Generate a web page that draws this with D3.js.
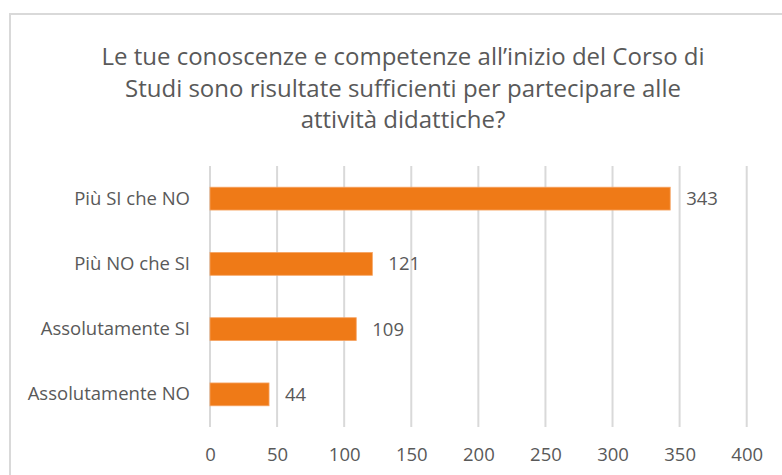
<!DOCTYPE html>
<html>
<head>
<meta charset="utf-8">
<style>
  body { margin: 0; background: #fff; }
  text { font-family: "Open Sans", sans-serif; fill: #595959; }
</style>
</head>
<body>
<svg width="782" height="475"></svg>
<script src="https://cdn.jsdelivr.net/npm/d3@7"></script>
<script>
// data
var categories = ["Più SI che NO", "Più NO che SI", "Assolutamente SI", "Assolutamente NO"];
var values = [343, 121, 109, 44];
var ticks = [0, 50, 100, 150, 200, 250, 300, 350, 400];
var titleLines = [
  "Le tue conoscenze e competenze all\u2019inizio del Corso di",
  "Studi sono risultate sufficienti per partecipare alle",
  "attività didattiche?"
];

var svg = d3.select("svg");

// chart border (runs off the right and bottom of the picture)
svg.append("rect")
  .attr("x", 10).attr("y", 14)
  .attr("width", 800).attr("height", 500)
  .attr("fill", "#fff")
  .attr("stroke", "#d9d9d9")
  .attr("stroke-width", 2);

var x = d3.scaleLinear().domain([0, 400]).range([210, 746.7]);
var y = d3.scaleBand().domain(categories).range([166, 427])
  .paddingInner(0.65).paddingOuter(0.325);

// title
svg.append("text")
  .attr("text-anchor", "middle")
  .style("font-size", "24px")
  .selectAll("tspan")
  .data(titleLines)
  .enter().append("tspan")
  .attr("x", 403)
  .attr("y", function(d, i) { return 65 + i * 31.5; })
  .text(function(d) { return d; });

// gridlines
svg.append("g")
  .selectAll("line")
  .data(ticks)
  .enter().append("line")
  .attr("x1", function(d) { return x(d); })
  .attr("x2", function(d) { return x(d); })
  .attr("y1", 166).attr("y2", 427)
  .attr("stroke", "#d9d9d9")
  .attr("stroke-width", 2);

// x axis labels
var xAxis = svg.append("g")
  .attr("transform", "translate(0,448)")
  .call(d3.axisBottom(x).tickValues(ticks).tickSize(0).tickPadding(0));
xAxis.select(".domain").remove();
xAxis.selectAll("text")
  .attr("dy", "0.71em")
  .style("font-size", "18.5px")
  .attr("fill", "#595959");

// category labels
var yAxis = svg.append("g")
  .attr("transform", "translate(190,0)")
  .call(d3.axisLeft(y).tickSize(0).tickPadding(0));
yAxis.select(".domain").remove();
yAxis.selectAll("text")
  .style("font-size", "18.5px")
  .attr("fill", "#595959");

// bars
var data = categories.map(function(c, i) { return {cat: c, value: values[i]}; });

svg.append("g")
  .selectAll("rect")
  .data(data)
  .enter().append("rect")
  .attr("x", x(0))
  .attr("y", function(d) { return y(d.cat); })
  .attr("width", function(d) { return x(d.value) - x(0); })
  .attr("height", y.bandwidth())
  .attr("fill", "#ef7a17")
  .attr("stroke", "#f6a463")
  .attr("stroke-width", 0.8);

// value labels
svg.append("g")
  .selectAll("text")
  .data(data)
  .enter().append("text")
  .attr("x", function(d) { return x(d.value) + 16; })
  .attr("y", function(d) { return y(d.cat) + y.bandwidth() / 2; })
  .attr("dy", "0.35em")
  .style("font-size", "18.5px")
  .text(function(d) { return d.value; });
</script>
</body>
</html>
